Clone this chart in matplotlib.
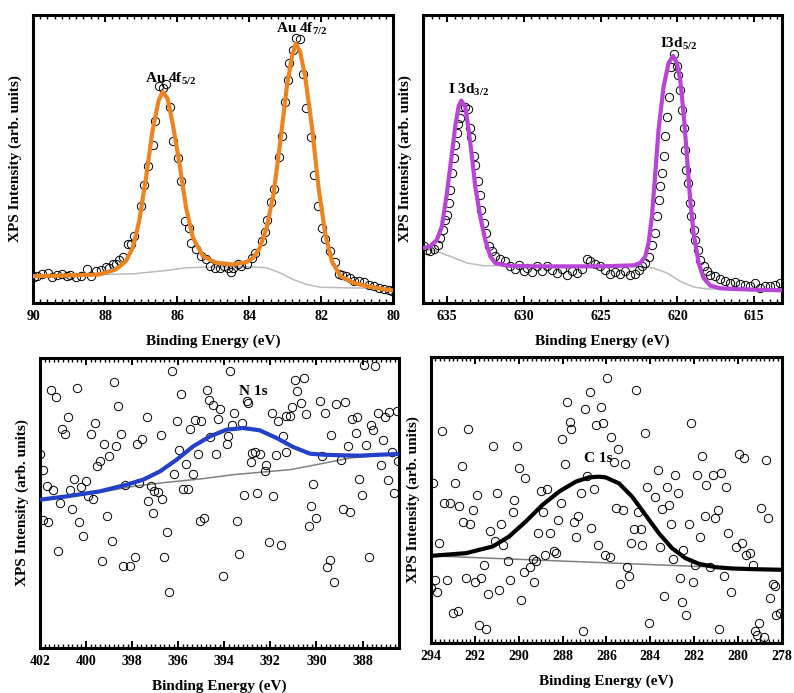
import matplotlib
matplotlib.use('Agg')
import matplotlib.pyplot as plt
from matplotlib.ticker import MultipleLocator

# ---- Au 4f ----
au_x = [89.98,89.89,89.75,89.58,89.47,89.33,89.19,89.05,88.96,88.82,88.68,88.49,88.40,88.24,88.12,87.98,87.89,87.79,87.70,87.61,
        87.51,87.37,87.28,87.19,87.00,86.91,86.82,86.68,86.60,86.49,86.40,86.30,86.19,86.10,85.98,85.88,85.77,85.68,85.61,85.47,
        85.33,85.19,85.09,84.95,84.81,84.70,84.58,84.49,84.44,84.30,84.21,84.07,83.93,83.84,83.65,83.56,83.51,83.40,83.31,83.18,
        83.09,83.00,82.93,82.88,82.77,82.69,82.58,82.49,82.41,82.28,82.19,82.09,81.97,81.88,81.74,81.60,81.51,81.42,81.32,81.20,
        81.09,80.95,80.81,80.67,80.53,80.39,80.25,80.11,80.02]
au_y = [770,800,870,900,770,830,870,800,830,770,800,1000,800,950,970,1070,1050,1150,1170,1270,
        1370,1750,1770,2000,2900,3530,4100,4720,5420,6470,6430,6530,5850,4850,4320,3650,2450,2230,1800,1600,
        1400,1300,1100,1050,1050,1100,1050,930,1050,1150,1100,1150,1330,1500,1850,2130,2470,3020,3400,4350,
        5000,6000,6650,7170,7550,7900,7880,6850,5820,4970,3820,2900,2250,1900,1550,1220,870,830,800,750,
        670,650,620,550,500,450,430,390,350]
au_fit_x = [90.00,89.10,88.17,87.70,87.42,87.23,87.05,86.86,86.68,86.51,86.40,86.26,86.12,85.93,85.75,85.56,85.28,84.91,84.44,
            84.07,83.88,83.70,83.51,83.32,83.14,82.95,82.81,82.70,82.58,82.44,82.25,82.07,81.88,81.70,81.46,81.09,80.72,80.35,80.00]
au_fit_y = [800,820,850,1000,1250,1650,2450,3750,5150,6050,6300,6100,5350,4150,2850,1950,1400,1200,1150,
            1220,1350,1650,2250,3250,4750,6450,7350,7750,7500,6750,5250,3450,2050,1250,800,600,500,430,370]
au_bg_x = [90.00,87.23,86.30,85.75,84.91,83.98,83.51,83.14,82.77,82.39,82.02,81.18,80.00]
au_bg_y = [800,870,970,1050,1080,1080,1050,900,700,550,470,450,430]

# ---- I 3d ----
i_x = [636.47,636.30,636.08,635.87,635.61,635.43,635.26,635.11,635.00,634.87,634.78,634.67,634.57,634.46,634.35,634.28,634.18,
       634.02,633.81,633.63,633.48,633.42,633.26,633.16,633.00,632.87,632.77,632.61,632.44,632.29,632.07,631.85,631.53,631.20,
       630.88,630.55,630.34,630.01,629.79,629.47,629.14,628.82,628.49,628.17,627.84,627.52,627.19,626.87,626.54,626.22,625.89,
       625.67,625.35,625.02,624.70,624.37,624.05,623.72,623.40,623.07,622.75,622.53,622.31,622.09,621.88,621.66,621.44,621.33,
       621.23,621.12,621.01,620.90,620.79,620.68,620.58,620.42,620.25,620.03,619.97,619.86,619.71,619.60,619.49,619.43,619.32,
       619.21,619.10,618.95,618.84,618.69,618.52,618.30,618.08,617.86,617.54,617.21,616.89,616.56,616.24,615.91,615.59,615.26,
       614.94,614.61,614.29,613.96,613.64,613.31]
i_y = [1700,1600,1550,1620,1750,1950,2200,2500,2650,3000,3400,3900,4350,4750,5100,5380,5550,
       5880,5900,5820,5250,4980,4400,4130,3650,3250,2800,2400,2100,1700,1550,1400,1320,1250,
       1100,1020,1150,950,1050,920,1100,950,1100,980,900,1020,850,950,900,1020,1320,
       1250,1180,1100,1000,880,920,880,950,850,880,1000,1120,1200,1380,1750,2100,2600,
       3100,3500,3900,4400,5000,5600,6200,7100,7480,7120,6850,6400,5800,5250,4600,4000,3600,
       3000,2600,2200,1900,1600,1300,1100,950,850,800,720,650,600,620,580,550,500,
       600,450,520,500,550,600]
i_fit_x = [636.56,636.08,635.65,635.33,635.00,634.67,634.46,634.24,634.07,633.81,633.59,633.37,633.16,632.83,632.51,632.18,
           631.85,631.10,629.36,627.19,625.02,622.85,622.42,622.09,621.88,621.66,621.44,621.23,620.90,620.58,620.29,620.03,
           619.82,619.60,619.38,619.17,618.95,618.62,618.30,617.86,617.21,616.35,615.04,613.20]
i_fit_y = [1650,1700,1900,2300,3300,4500,5300,5900,6080,5900,5200,4400,3500,2600,1900,1400,
           1200,1120,1100,1100,1100,1130,1200,1400,1800,2600,3900,5200,6500,7200,7420,7200,
           6700,5700,4400,3100,2100,1200,750,520,440,420,400,380]
i_bg_x = [636.56,635.65,634.78,633.70,632.61,629.36,625.02,622.85,621.55,620.68,619.82,618.95,618.08,616.35,613.20]
i_bg_y = [1620,1550,1400,1200,1120,1120,1100,1100,1050,900,650,480,420,420,400]

# ---- N 1s ----
n_x = [396.29,393.76,387.93,387.44,390.94,390.55,398.79,401.52,401.31,400.41,395.88,394.77,390.86,393.03,392.96,394.67,394.48,
       394.19,398.60,389.85,389.13,388.74,390.65,391.05,391.95,393.57,389.63,390.46,391.30,391.15,391.66,387.32,386.84,386.52,
       387.03,388.45,388.22,387.64,387.54,400.80,401.03,400.92,399.80,399.60,397.37,396.07,395.27,394.99,394.26,395.49,393.68,
       393.25,398.50,396.76,399.21,398.70,397.81,397.59,394.60,393.86,393.90,391.44,388.30,389.35,387.10,387.83,388.62,402.00,
       401.88,399.40,399.51,398.99,395.97,395.16,394.36,395.68,396.17,395.38,392.79,392.67,392.45,392.86,391.76,391.34,389.74,
       388.94,387.20,386.70,386.45,392.17,392.24,400.51,400.00,400.22,401.71,401.42,400.70,398.31,397.69,397.20,396.87,397.05,
       395.78,395.56,401.13,399.90,399.69,397.30,396.69,393.15,392.57,391.88,390.14,388.14,386.91,386.63,388.01,400.63,401.86,
       401.64,400.31,400.12,399.11,397.08,395.06,394.87,393.47,390.24,390.04,390.34,388.84,388.55,396.48,398.89,401.20,399.30,
       398.38,398.10,397.88,396.61,393.37,392.05,391.56,389.42,389.53,389.24,387.72,394.07,396.39]
n_y = [8320,8320,8500,8450,8050,8100,7970,7750,7530,7790,7620,7750,7700,7400,7350,7450,7280,
       7180,7270,7400,7320,7370,7350,7220,7050,7050,7050,7020,6950,6970,6800,7050,7080,7100,
       6920,6880,6920,6700,6530,6920,6570,6430,6430,6750,6920,6800,6830,6820,6880,6570,6700,
       6750,6430,6390,6130,6050,6130,6270,6320,6370,6130,6350,6450,6400,6230,6090,6050,5830,
       5350,5620,5470,5750,5930,5820,5830,5520,5220,5220,5850,5880,5820,5570,5780,5870,5770,
       5650,5480,5870,5620,5480,5320,5080,5000,4830,4870,4750,4750,4880,4950,4850,4690,4700,
       4780,4780,4350,4550,4470,4400,4470,4600,4650,4570,4920,5080,5050,4650,4600,4170,3850,
       3780,3780,3350,3970,4050,3800,3900,3820,4270,3900,3650,4180,4080,3470,3220,2900,2620,
       2470,2470,2730,2730,2830,3180,3080,2650,2420,1990,2730,2170,1690]
n_fit_x = [402.00,400.84,399.40,398.24,397.52,396.79,396.07,395.35,394.62,393.90,393.18,392.46,391.73,391.01,390.28,389.71,
           388.84,388.12,387.25,386.42]
n_fit_y = [4450,4550,4700,4900,5050,5300,5650,6050,6350,6550,6600,6530,6300,6030,5830,5800,5780,5770,5800,5820]
n_bg_x = [402.00,399.40,397.95,396.50,395.06,393.61,391.15,390.00,388.55,386.42]
n_bg_y = [4450,4670,4850,4970,5070,5200,5350,5500,5700,5820]

# ---- C 1s ----
c_x = [285.96,284.67,286.77,287.78,286.98,286.27,287.68,287.60,286.49,286.16,282.14,293.50,292.30,284.26,288.01,285.78,285.48,
       291.19,290.10,292.60,290.01,287.89,285.66,285.16,281.64,279.94,279.73,278.73,286.87,283.64,282.87,281.85,281.16,280.76,
       293.92,292.91,289.71,284.17,283.26,281.46,280.55,289.00,288.69,287.18,286.57,282.73,291.91,291.01,283.78,293.42,293.12,
       292.71,290.21,292.10,290.28,288.07,288.89,285.55,285.25,284.58,283.45,283.16,280.93,281.03,292.53,292.23,290.80,288.19,
       287.48,287.30,283.04,282.25,281.52,286.69,284.76,284.43,280.44,293.62,291.32,291.09,290.71,289.10,288.59,287.39,286.37,
       284.87,284.37,283.55,281.75,280.09,279.82,279.62,279.46,288.80,288.40,288.28,286.08,285.86,290.51,289.37,289.19,291.60,
       282.96,282.50,281.97,281.26,279.32,289.78,289.48,285.07,284.95,280.64,293.80,293.29,292.41,291.98,291.71,290.39,289.30,
       285.37,282.66,282.07,278.41,278.33,293.73,293.98,290.91,291.39,289.88,283.37,282.55,280.34,278.53,293.01,292.79,282.37,
       278.26,278.11,291.83,291.50,287.08,284.07,280.85,279.05,279.23,279.12,278.82,278.94,278.65]
c_y = [7980,7600,7550,7240,7050,7100,6630,6420,6550,6620,6620,6380,6430,6300,6120,6180,5820,
       5930,5930,5310,5260,5370,5440,5370,5620,5680,5560,5500,5020,5200,5060,5060,5060,5120,
       4820,4820,4950,4700,4700,4750,4700,4570,4620,4500,4620,4500,4440,4500,4400,4200,4200,
       4130,4310,4000,3950,4200,3940,4060,4000,3930,4020,4140,4000,3750,3640,3580,3570,3690,
       3630,3820,3580,3580,3830,3450,3440,3440,3320,3020,3380,3070,2960,3320,3320,3200,2950,
       3020,2940,2890,3200,2900,3010,2640,2710,2640,2770,2720,2650,2580,2470,2530,2460,2330,
       2530,2800,2330,2270,2340,2140,2270,2270,2020,2020,1900,1900,1950,1840,1960,1900,1840,
       1780,1960,1840,1780,1720,1530,1650,1590,1460,1280,1400,1220,1520,1350,900,950,850,
       850,900,530,420,350,600,420,600,360,240,170,4060,3760]
c_fit_x = [294.00,292.41,291.19,290.44,289.68,288.92,288.16,287.40,286.80,286.34,286.04,285.43,284.83,284.22,283.61,283.01,
           282.40,281.79,281.03,280.28,279.37,278.00]
c_fit_y = [2620,2700,2900,3200,3650,4150,4550,4850,4980,5000,4980,4800,4400,3850,3300,2850,
           2550,2380,2280,2240,2220,2200]
c_bg_x = [294.00,278.00]
c_bg_y = [2620,2200]

plt.rcParams['font.family'] = 'Liberation Serif'
plt.rcParams['font.weight'] = 'bold'
plt.rcParams['mathtext.fontset'] = 'custom'
plt.rcParams['mathtext.rm'] = 'Liberation Serif:bold'
plt.rcParams['mathtext.it'] = 'Liberation Serif:italic:bold'
plt.rcParams['mathtext.bf'] = 'Liberation Serif:bold'

fig = plt.figure(figsize=(7.94, 6.93), dpi=100)


def panel(rect, x, y, fx, fy, bx, by, col, bgcol, xlim, ylim, step, minor, label, lx, ly):
    ax = fig.add_axes(rect)
    ax.plot(bx, by, color=bgcol, lw=1.1, zorder=1)
    ax.plot(x, y, 'o', ms=6, mfc='none', mec='black', mew=0.7, zorder=2, clip_on=True)
    ax.plot(fx, fy, color=col, lw=3, zorder=3, solid_capstyle='butt')
    ax.set_xlim(xlim)
    ax.set_ylim(ylim)
    ax.xaxis.set_major_locator(MultipleLocator(step))
    ax.xaxis.set_minor_locator(MultipleLocator(minor))
    ax.set_yticks([])
    ax.tick_params(axis='x', which='both', direction='in', top=True, bottom=True, labelsize=10, pad=5)
    ax.tick_params(axis='x', which='major', length=5, width=1.4)
    ax.tick_params(axis='x', which='minor', length=3, width=1.0)
    for s in ax.spines.values():
        s.set_linewidth(2.2)
    ax.set_xlabel('Binding Energy (eV)', fontsize=11, fontweight='bold', labelpad=8)
    ax.set_ylabel('XPS Intensity (arb. units)', fontsize=11, fontweight='bold', labelpad=8)
    ax.text(lx, ly, label, fontsize=11, fontweight='bold', ha='left', va='bottom')
    return ax


panel([0.0416, 0.5628, 0.4534, 0.4156], au_x, au_y, au_fit_x, au_fit_y, au_bg_x, au_bg_y,
      '#EE8420', '#BBBBBB', (90, 80), (0, 8600), 2, 0.2, r'Au 4f$_{\mathrm{5/2}}$', 86.88, 6450)
panel([0.5327, 0.5628, 0.4521, 0.4156], i_x, i_y, i_fit_x, i_fit_y, i_bg_x, i_bg_y,
      '#B845D8', '#BBBBBB', (636.56, 613.2), (0, 8650), 5, 0.5, r'I 3d$_{\mathrm{3/2}}$', 634.93, 6150)
panel([0.0504, 0.0649, 0.4520, 0.4185], n_x, n_y, n_fit_x, n_fit_y, n_bg_x, n_bg_y,
      '#2340C8', '#808080', (402, 386.42), (0, 8700), 2, 0.2, 'N 1s', 393.35, 7500)
panel([0.5428, 0.0722, 0.4420, 0.4127], c_x, c_y, c_fit_x, c_fit_y, c_bg_x, c_bg_y,
      'black', '#808080', (294, 278), (0, 8600), 2, 0.2, 'C 1s', 287.02, 5350)

# second labels on the two doublet panels
fig.axes[0].text(83.25, 7950, r'Au 4f$_{\mathrm{7/2}}$', fontsize=11, fontweight='bold', ha='left', va='bottom')
fig.axes[1].text(621.12, 7550, r'I3d$_{\mathrm{5/2}}$', fontsize=11, fontweight='bold', ha='left', va='bottom')

fig.savefig('out.png', dpi=100)
